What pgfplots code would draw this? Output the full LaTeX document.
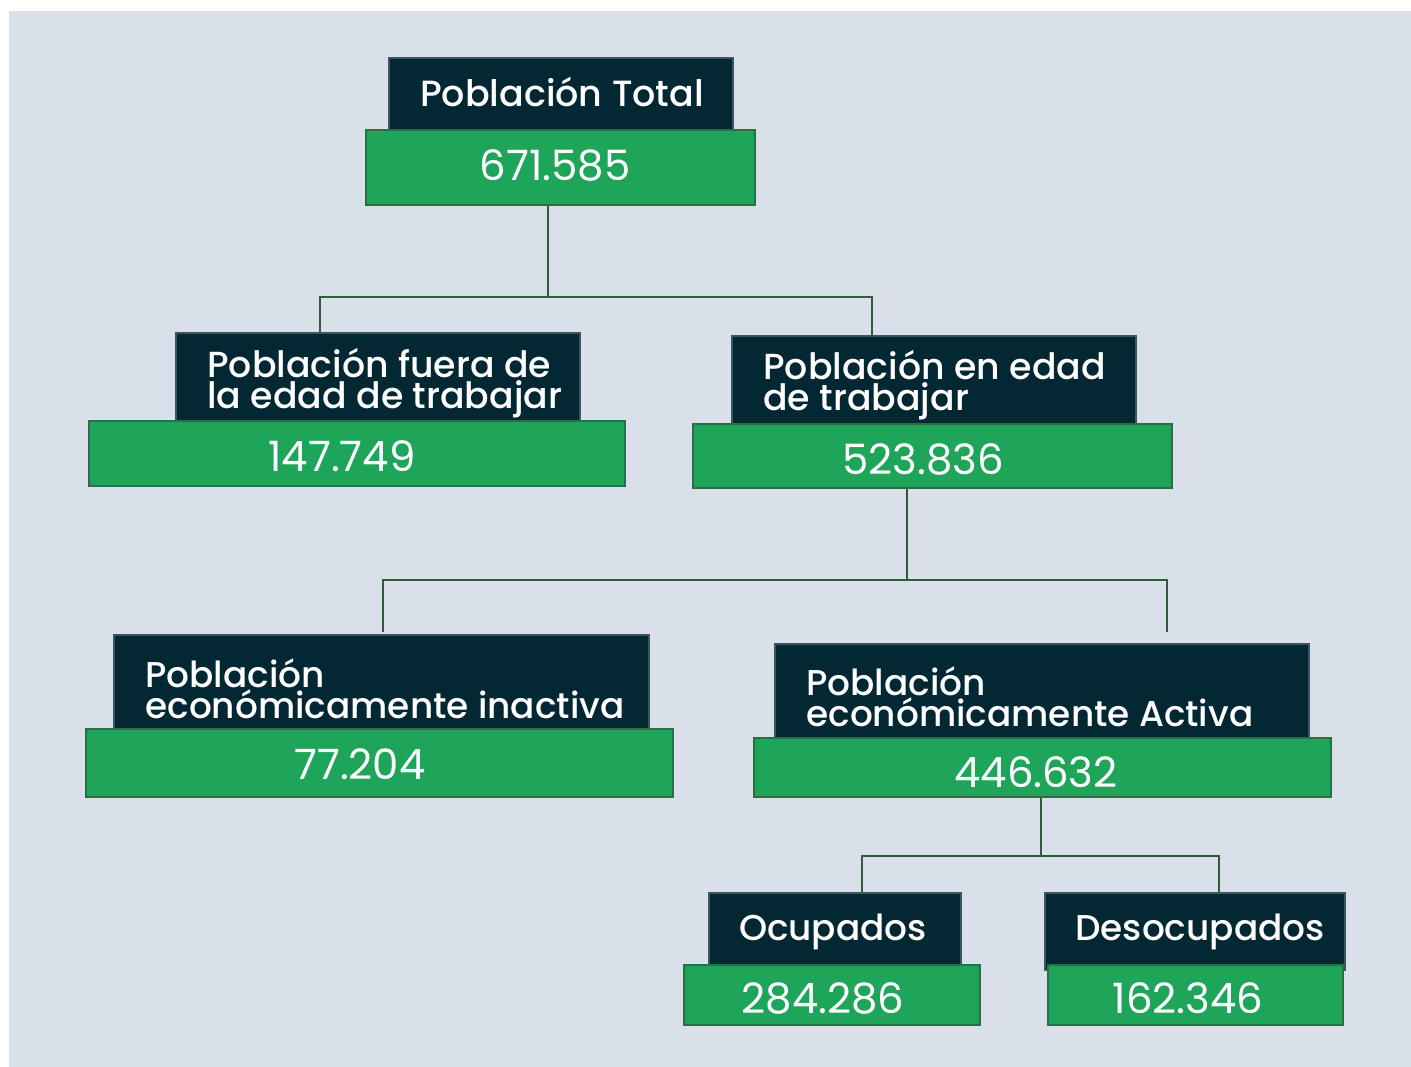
\documentclass[border=0pt]{standalone}
\usepackage{pgfplots}
\pgfplotsset{compat=1.18}
\usepackage{fontspec}
\setmainfont{Poppins}
\newfontfamily\titlefont{Poppins}[UprightFont=* Medium]
\definecolor{bg}{HTML}{D9E0EA}
\definecolor{dark}{HTML}{032833}
\definecolor{darkedge}{HTML}{3E5560}
\definecolor{grn}{HTML}{1EA55A}
\definecolor{grnedge}{HTML}{2A6E45}
\definecolor{conn}{HTML}{2F5D3A}
\newcommand{\rbox}[6]{\addplot[fill=#5, draw=#6, line width=0.6bp, mark=none] coordinates {(#1,#2) (#3,#2) (#3,#4) (#1,#4)} --cycle;}
\newcommand{\conn}[1]{\addplot[draw=conn, line width=1.3bp, mark=none] coordinates {#1};}
\begin{document}
\begin{tikzpicture}
\begin{axis}[
  width=705.5bp, height=533.5bp, scale only axis,
  xmin=0, xmax=1411, ymin=0, ymax=1067, y dir=reverse,
  hide axis, clip=false]
% background
\addplot[fill=white, draw=none, mark=none] coordinates {(0,0) (1411,0) (1411,1067) (0,1067)} --cycle;
\addplot[fill=bg, draw=none, mark=none] coordinates {(9,11) (1411,11) (1411,1067) (9,1067)} --cycle;
% connectors
\conn{(548,205) (548,297)}
\conn{(320,333) (320,297) (872,297) (872,336)}
\conn{(907,488) (907,580)}
\conn{(383,632) (383,580) (1167,580) (1167,632)}
\conn{(1041,797) (1041,856)}
\conn{(862,893) (862,856) (1219,856) (1219,893)}
% boxes
\rbox{389}{58}{733}{130}{dark}{darkedge}
\rbox{366}{130}{755}{205}{grn}{grnedge}
\rbox{176}{333}{580}{421}{dark}{darkedge}
\rbox{89}{421}{625}{486}{grn}{grnedge}
\rbox{732}{336}{1136}{424}{dark}{darkedge}
\rbox{693}{424}{1172}{488}{grn}{grnedge}
\rbox{114}{635}{649}{729}{dark}{darkedge}
\rbox{86}{729}{673}{797}{grn}{grnedge}
\rbox{775}{644}{1309}{738}{dark}{darkedge}
\rbox{754}{738}{1331}{797}{grn}{grnedge}
\rbox{709}{893}{961}{965}{dark}{darkedge}
\rbox{684}{965}{980}{1025}{grn}{grnedge}
\rbox{1045}{893}{1345}{970}{dark}{darkedge}
\rbox{1048}{965}{1343}{1025}{grn}{grnedge}
% titles
\node[text=white, font=\titlefont\fontsize{18.3}{18}\selectfont] at (axis cs:562,92) {Población Total};
\node[text=white, anchor=west, align=left, inner sep=0pt, font=\titlefont\fontsize{18.2}{15.5}\selectfont] at (axis cs:207,383) {Población fuera de\\la edad de trabajar};
\node[text=white, anchor=west, align=left, inner sep=0pt, font=\titlefont\fontsize{18.2}{15.5}\selectfont] at (axis cs:763,385) {Población en edad\\de trabajar};
\node[text=white, anchor=west, align=left, inner sep=0pt, font=\titlefont\fontsize{18}{15.5}\selectfont] at (axis cs:145,689) {Población\\económicamente inactiva};
\node[text=white, anchor=west, align=left, inner sep=0pt, font=\titlefont\fontsize{18}{15.5}\selectfont] at (axis cs:806,697) {Población\\económicamente Activa};
\node[text=white, font=\titlefont\fontsize{18}{18}\selectfont] at (axis cs:833,932) {Ocupados};
\node[text=white, font=\titlefont\fontsize{18}{18}\selectfont] at (axis cs:1200,932) {Desocupados};
% numbers
\node[text=white, font=\fontsize{21}{21}\selectfont] at (axis cs:555,165) {671.585};
\node[text=white, font=\fontsize{21}{21}\selectfont] at (axis cs:342,456) {147.749};
\node[text=white, font=\fontsize{21}{21}\selectfont] at (axis cs:923,459) {523.836};
\node[text=white, font=\fontsize{21}{21}\selectfont] at (axis cs:360,764) {77.204};
\node[text=white, font=\fontsize{21}{21}\selectfont] at (axis cs:1036,772) {446.632};
\node[text=white, font=\fontsize{21}{21}\selectfont] at (axis cs:823,998) {284.286};
\node[text=white, font=\fontsize{21}{21}\selectfont] at (axis cs:1188,998) {162.346};
\end{axis}
\end{tikzpicture}
\end{document}
